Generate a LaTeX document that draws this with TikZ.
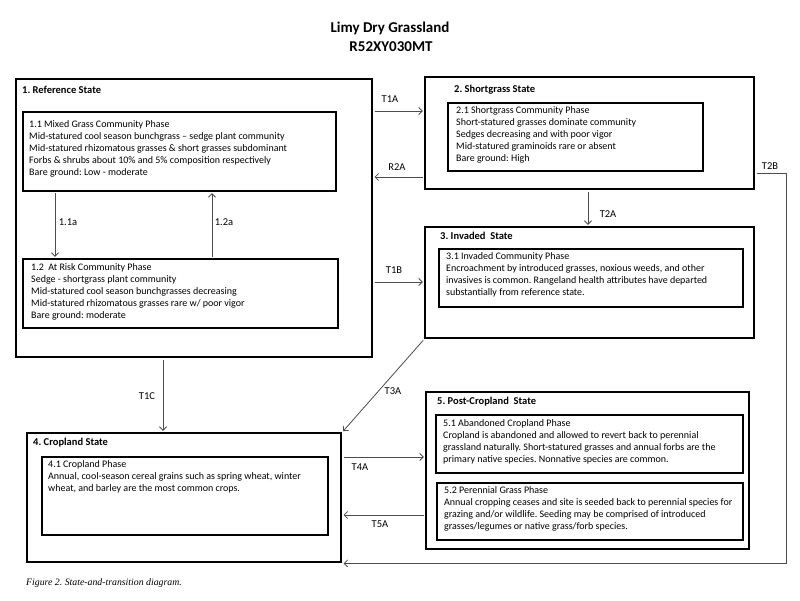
\documentclass[tikz,border=0pt]{standalone}
\usepackage{fontspec}
\setmainfont{Carlito}
\newfontfamily\capfont{Liberation Serif}
\usetikzlibrary{arrows.meta,calc,positioning}
\frenchspacing

\begin{document}
\begin{tikzpicture}[x=1pt,y=-1pt,
		state/.style={draw, line width=2.4pt, anchor=north west, inner sep=0pt},
		phase/.style={draw, line width=2pt, anchor=north west, inner sep=0pt},
		statename/.style={anchor=mid west, inner sep=0pt, font=\fontsize{10.5}{12}\selectfont\bfseries},
		phasetext/.style={anchor=north west, inner sep=0pt, align=left, font=\fontsize{10}{12}\selectfont},
		trans/.style={draw=black!70, line width=0.8pt, shorten <=1.2pt, shorten >=1.2pt, -{Straight Barb[length=3.5pt,width=7pt]}},
		translabel/.style={inner sep=0pt, font=\fontsize{10.5}{12}\selectfont}]
			\fill [white] (0,0) rectangle (800,600);
			\useasboundingbox (0,0) rectangle (800,600);
			\node [font=\fontsize{15}{18}\selectfont\bfseries] (title) at (390,28) {Limy Dry Grassland};
			\node [font=\fontsize{15}{18}\selectfont\bfseries] (code) at (391,47) {R52XY030MT};
			\node [state, minimum width=356pt, minimum height=278pt] (s1) at (15,78) {};
			\node [state, minimum width=329pt, minimum height=112pt] (s2) at (424,76) {};
			\node [state, minimum width=329pt, minimum height=111pt] (s3) at (424,226) {};
			\node [state, minimum width=314pt, minimum height=129pt] (s4) at (26,432) {};
			\node [state, minimum width=323pt, minimum height=157pt] (s5) at (425,391) {};
			\node [statename] (l1) at (22,91) {1. Reference State};
			\node [statename] (l2) at (454,90) {2. Shortgrass State};
			\node [statename] (l3) at (440,237) {3. Invaded\ \ State};
			\node [statename] (l4) at (33,443) {4. Cropland State};
			\node [statename] (l5) at (437,402) {5. Post-Cropland\ \ State};
			\node [phase, minimum width=313pt, minimum height=79pt] (p11) at (22,111) {};
			\node [phase, minimum width=315pt, minimum height=69pt] (p12) at (22,258) {};
			\node [phase, minimum width=255pt, minimum height=68pt] (p21) at (447,102) {};
			\node [phase, minimum width=304pt, minimum height=58pt] (p31) at (438,248) {};
			\node [phase, minimum width=286pt, minimum height=78pt] (p41) at (41,456) {};
			\node [phase, minimum width=307pt, minimum height=58pt] (p51) at (435,414) {};
			\node [phase, minimum width=306pt, minimum height=57pt] (p52) at (436,482) {};
			\node [phasetext] (t11) at (29,120) {1.1 Mixed Grass Community Phase\\Mid-statured cool season bunchgrass -- sedge plant community\\Mid-statured rhizomatous grasses \& short grasses subdominant\\Forbs \& shrubs about 10\% and 5\% composition respectively\\Bare ground: Low - moderate};
			\node [phasetext] (t12) at (31,263) {1.2\ \ At Risk Community Phase\\Sedge - shortgrass plant community\\Mid-statured cool season bunchgrasses decreasing\\Mid-statured rhizomatous grasses rare w/ poor vigor\\Bare ground: moderate};
			\node [phasetext] (t21) at (456,106) {2.1 Shortgrass Community Phase\\Short-statured grasses dominate community\\Sedges decreasing and with poor vigor\\Mid-statured graminoids rare or absent\\Bare ground: High};
			\node [phasetext] (t31) at (446,252) {3.1 Invaded Community Phase\\Encroachment by introduced grasses, noxious weeds, and other\\invasives is common. Rangeland health attributes have departed\\substantially from reference state.};
			\node [phasetext] (t41) at (48,460) {4.1 Cropland Phase\\Annual, cool-season cereal grains such as spring wheat, winter\\wheat, and barley are the most common crops.};
			\node [phasetext] (t51) at (443,419) {5.1 Abandoned Cropland Phase\\Cropland is abandoned and allowed to revert back to perennial\\grassland naturally. Short-statured grasses and annual forbs are the\\primary native species. Nonnative species are common.};
			\node [phasetext] (t52) at (444,486) {5.2 Perennial Grass Phase\\Annual cropping ceases and site is seeded back to perennial species for\\grazing and/or wildlife. Seeding may be comprised of introduced\\grasses/legumes or native grass/forb species.};
			\coordinate (c11a) at (55,0);
			\coordinate (c12a) at (212,0);
			\coordinate (r2a) at (0,177);
			\coordinate (t1b) at (0,282);
			\coordinate (t1c) at (163,0);
			\coordinate (t2a) at (588,0);
			\coordinate (t2b) at (786,173);
			\coordinate (t4a) at (0,457);
			\coordinate (t5a) at (0,515);
			\draw [trans] (c11a |- p11.south) -- (c11a |- p12.north);
			\draw [trans] (c12a |- p12.north) -- (c12a |- p11.south);
			\draw [trans] (p11.north -| s1.east) -- (p11.north -| s2.west);
			\draw [trans] (r2a -| s2.west) -- (r2a -| s1.east);
			\draw [trans] (t1b -| s1.east) -- (t1b -| s3.west);
			\draw [trans] (t2a |- s2.south) -- (t2a |- s3.north);
			\draw [trans] (t2b -| s2.east) -- (t2b) -- (t2b |- s4.south) -- (s4.south east);
			\draw [trans] (s3.south west) -- (s4.north east);
			\draw [trans] (t1c |- s1.south) -- (t1c |- s4.north);
			\draw [trans] (t4a -| s4.east) -- (t4a -| s5.west);
			\draw [trans] (t5a -| s5.west) -- (t5a -| s4.east);
			\node [translabel] (n11a) at (68,222) {1.1a};
			\node [translabel] (n12a) at (224,222) {1.2a};
			\node [translabel] (n1a) at (390,99) {T1A};
			\node [translabel] (n2r) at (397,167) {R2A};
			\node [translabel] (n1b) at (394,270) {T1B};
			\node [translabel] (n2a) at (608,214) {T2A};
			\node [translabel] (n2b) at (770,166) {T2B};
			\node [translabel] (n3a) at (393,391) {T3A};
			\node [translabel] (n1c) at (147,396) {T1C};
			\node [translabel] (n4a) at (360,467) {T4A};
			\node [translabel] (n5a) at (380,524) {T5A};
			\node [anchor=mid west, inner sep=0pt, font=\capfont\itshape\fontsize{9.8}{11}\selectfont] (caption) at (26,583) {Figure 2. State-and-transition diagram.};
		\end{tikzpicture}
\end{document}
